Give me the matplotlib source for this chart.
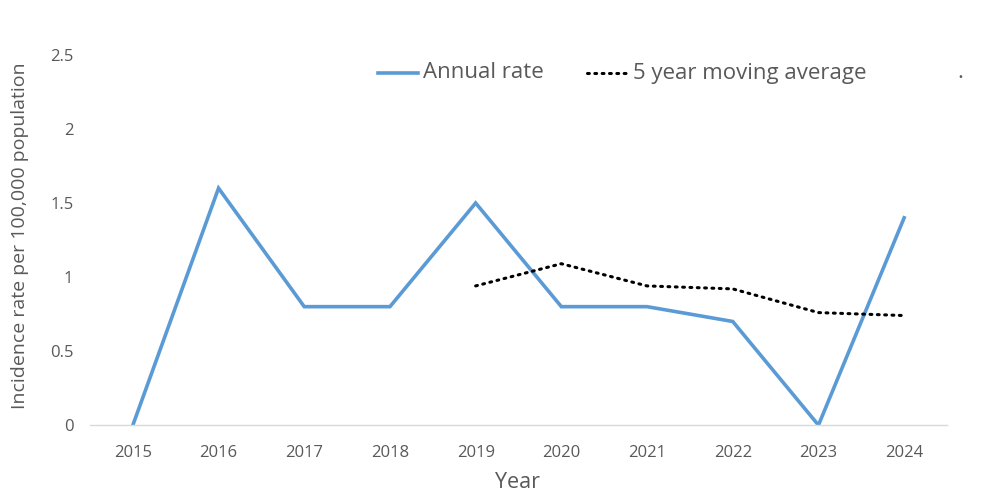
import matplotlib
matplotlib.use("Agg")
import matplotlib.pyplot as plt
from matplotlib.lines import Line2D

years = ["2015", "2016", "2017", "2018", "2019", "2020", "2021", "2022", "2023", "2024"]
annual_rate = [0, 1.6, 0.8, 0.8, 1.5, 0.8, 0.8, 0.7, 0, 1.4]
ma_years = ["2019", "2020", "2021", "2022", "2023", "2024"]
moving_avg = [0.94, 1.09, 0.94, 0.92, 0.76, 0.74]
yticks = [0, 0.5, 1, 1.5, 2, 2.5]
ytick_labels = ["0", "0.5", "1", "1.5", "2", "2.5"]

plt.rcParams['font.family'] = ['Open Sans', 'DejaVu Sans']
grey = "#595959"
blue = "#5B9BD5"

fig = plt.figure(figsize=(10, 4.99), dpi=100)
ax = fig.add_axes([0.09, 0.148, 0.857, 0.742])

x = list(range(len(years)))
ma_x = [years.index(y) for y in ma_years]
ax.plot(x, annual_rate, color=blue, lw=2.6, solid_joinstyle='miter')
ax.plot(ma_x, moving_avg, color='black', lw=2.2, linestyle=(0, (0.6, 1.8)), dash_capstyle='round')

ax.set_xlim(-0.5, len(years) - 0.5)
ax.set_ylim(0, 2.5)
ax.set_xticks(x)
ax.set_xticklabels(years, fontsize=12, color=grey)
ax.set_yticks(yticks)
ax.set_yticklabels(ytick_labels, fontsize=12, color=grey)
ax.tick_params(axis='both', length=0)
ax.tick_params(axis='x', pad=14)
ax.tick_params(axis='y', pad=12)
for s in ['top', 'right', 'left']:
    ax.spines[s].set_visible(False)
ax.spines['bottom'].set_color('#D9D9D9')
ax.spines['bottom'].set_linewidth(1)

ax.set_xlabel("Year", fontsize=15.5, color=grey, va='center')
ax.xaxis.set_label_coords(0.4994, -0.154)
ax.set_ylabel("Incidence rate per 100,000 population", fontsize=14, color=grey, va='center')
ax.yaxis.set_label_coords(-0.0817, 0.513)

# legend drawn manually
ly = 1 - 73 / 499
fig.add_artist(Line2D([0.378, 0.418], [ly, ly], color=blue, lw=2.6, transform=fig.transFigure))
fig.text(0.423, ly, "Annual rate", fontsize=16, color=grey, va='center', ha='left')
fig.add_artist(Line2D([0.587, 0.628], [ly, ly], color='black', lw=2.2, linestyle=(0, (0.6, 1.8)),
                      dash_capstyle='round', transform=fig.transFigure))
fig.text(0.633, ly, "5 year moving average", fontsize=16, color=grey, va='center', ha='left')
fig.text(0.957, ly, ".", fontsize=16, color=grey, va='center', ha='left')

fig.savefig("out.png", dpi=100)
